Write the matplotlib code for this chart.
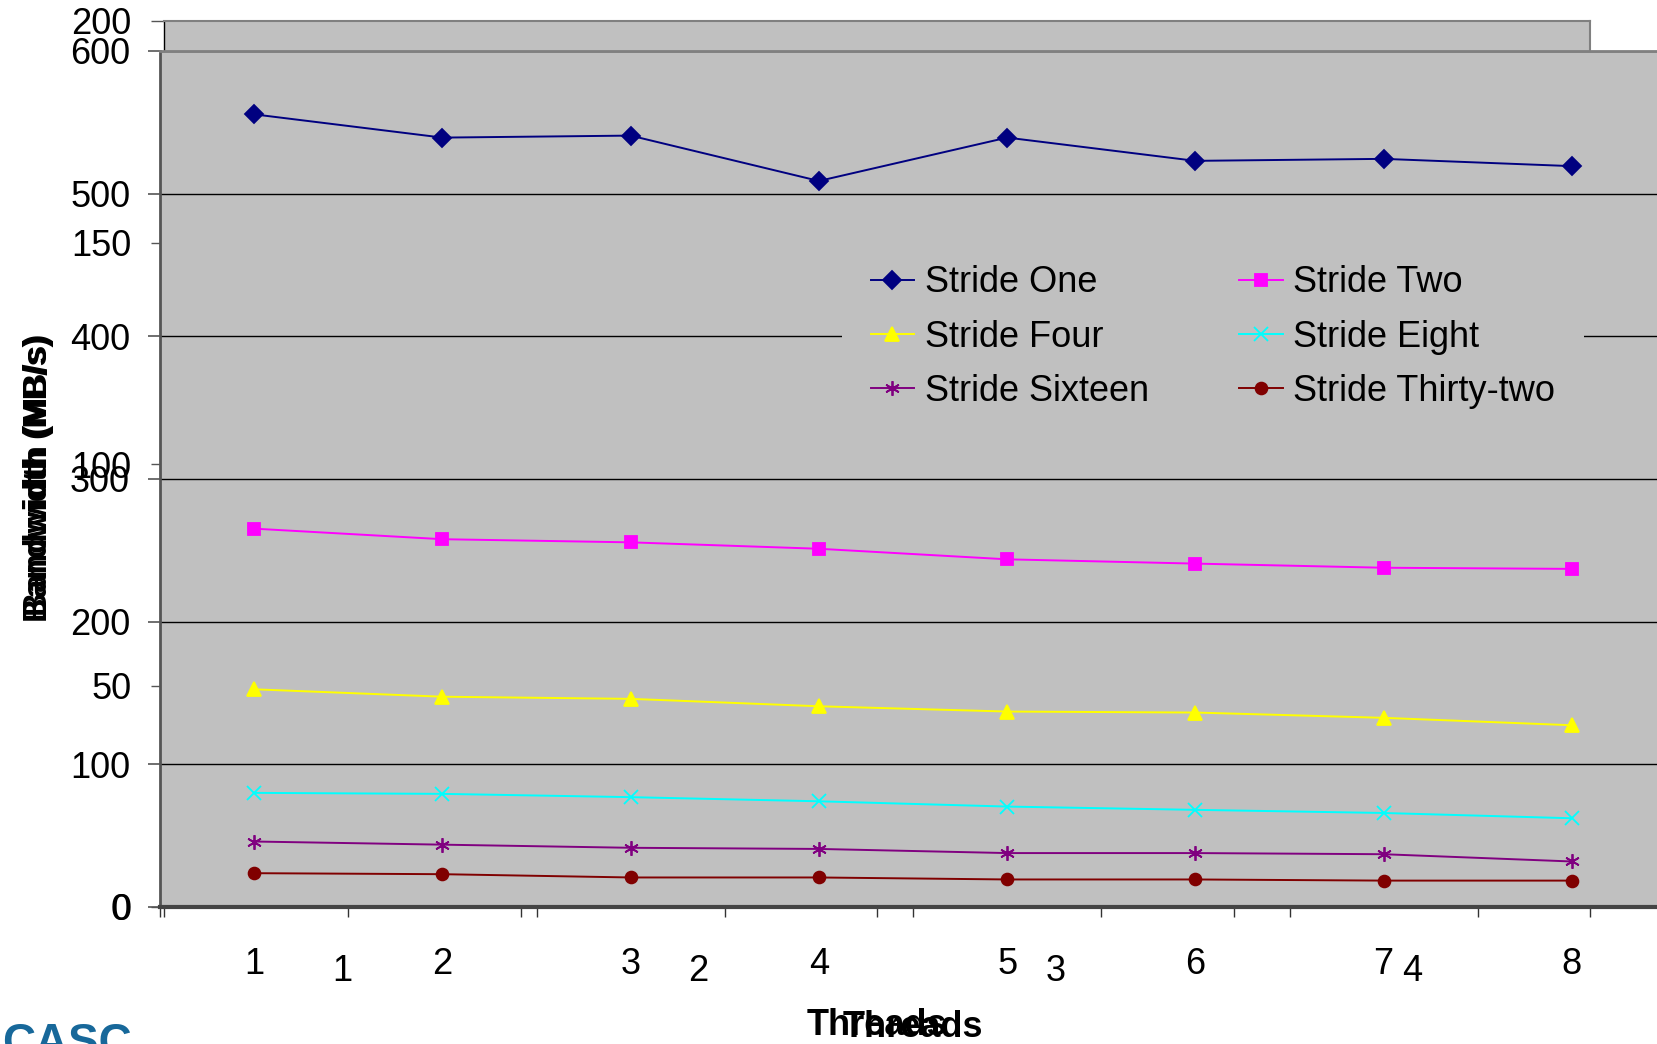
import matplotlib
matplotlib.use('Agg')
import matplotlib.pyplot as plt
from matplotlib.ticker import FixedLocator, FixedFormatter

plt.rcParams['font.family'] = ['Liberation Sans', 'DejaVu Sans']

# ---- data ----
threads = [1, 2, 3, 4, 5, 6, 7, 8]
thread_labels = ['1', '2', '3', '4', '5', '6', '7', '8']
back_categories = [1, 2, 3, 4]
back_labels = ['1', '2', '3', '4']
back_yticks = [0, 50, 100, 150, 200]
front_yticks = [0, 100, 200, 300, 400, 500, 600]

series_names = ['Stride One', 'Stride Two', 'Stride Four',
                'Stride Eight', 'Stride Sixteen', 'Stride Thirty-two']
stride_one = [555.6, 539.3, 540.7, 508.9, 539.3, 523.0, 524.4, 519.3]
stride_two = [265.2, 257.8, 255.6, 251.1, 243.7, 240.7, 237.8, 237.0]
stride_four = [152.6, 147.4, 145.9, 140.7, 137.0, 136.3, 132.6, 127.4]
stride_eight = [80.0, 79.3, 77.0, 74.1, 70.4, 68.1, 65.9, 62.2]
stride_sixteen = [45.9, 43.7, 41.5, 40.7, 37.8, 37.8, 37.0, 31.9]
stride_thirty_two = [23.7, 23.0, 20.7, 20.7, 19.3, 19.3, 18.5, 18.5]

colors = ['#000080', '#ff00ff', '#ffff00', '#00ffff', '#800080', '#800000']
markers = ['D', 's', '^', 'x', (6, 2, 0), 'o']
msizes = [9, 8.5, 9.5, 9.5, 10.5, 8.5]

W, H = 1657, 1044
fig = plt.figure(figsize=(W / 100, H / 100), dpi=100)
GRAY = '#c0c0c0'
TICK_FS = 26

def rect(l, t, r, b):
    return [l / W, 1 - b / H, (r - l) / W, (b - t) / H]

# ---- back chart ----
axb = fig.add_axes(rect(164, 21, 1590, 907))
axb.set_facecolor(GRAY)
axb.set_xlim(0.5, 4.5)
axb.set_ylim(0, 200)
axb.set_yticks(back_yticks)
axb.set_yticklabels([str(v) for v in back_yticks])
axb.xaxis.set_major_locator(FixedLocator(back_categories))
axb.xaxis.set_major_formatter(FixedFormatter(back_labels))
axb.xaxis.set_minor_locator(FixedLocator([0.5, 1.5, 2.5, 3.5, 4.5]))
axb.tick_params(axis='x', which='major', length=0, pad=33.5, labelsize=TICK_FS)
axb.tick_params(axis='x', which='minor', length=7.5, width=1, color='#333333')
axb.tick_params(axis='y', length=9.5, width=1, pad=14, labelsize=TICK_FS, color='#555555')
for s in ['top', 'right']:
    axb.spines[s].set_color('#808080')
    axb.spines[s].set_linewidth(1.5)
axb.spines['left'].set_color('black')
axb.spines['left'].set_linewidth(1)
axb.spines['bottom'].set_color('#333333')
axb.set_xlabel('Threads', fontsize=26, fontweight='bold')
axb.xaxis.set_label_coords(0.5, -0.114)
axb.set_ylabel('Bandwidth (MB/s)', fontsize=24.5, fontweight='bold')
axb.yaxis.set_label_coords(-0.077, 0.484)

# ---- front chart ----
ax = fig.add_axes(rect(160, 51, 1666, 907))
ax.set_facecolor(GRAY)
ax.set_xlim(0.5, 8.5)
ax.set_ylim(0, 600)
ax.set_yticks(front_yticks)
ax.set_yticklabels([str(v) for v in front_yticks])
ax.xaxis.set_major_locator(FixedLocator(threads))
ax.xaxis.set_major_formatter(FixedFormatter(thread_labels))
ax.xaxis.set_minor_locator(FixedLocator([x + 0.5 for x in [0] + threads]))
ax.tick_params(axis='x', which='major', length=0, pad=28.5, labelsize=TICK_FS)
ax.tick_params(axis='x', which='minor', length=7.5, width=1, color='#333333')
ax.tick_params(axis='y', length=9, width=1.2, pad=12.5, labelsize=TICK_FS, color='#555555')
ax.yaxis.grid(True, color='black', linewidth=1)
ax.set_axisbelow(True)
ax.spines['top'].set_color('#808080')
ax.spines['top'].set_linewidth(2)
ax.spines['left'].set_color('#555555')
ax.spines['left'].set_linewidth(2)
ax.spines['bottom'].set_color('#444444')
ax.spines['bottom'].set_linewidth(3)
ax.spines['right'].set_visible(False)

all_series = [stride_one, stride_two, stride_four, stride_eight,
              stride_sixteen, stride_thirty_two]
lines = []
for name, vals, c, m, ms in zip(series_names, all_series, colors, markers, msizes):
    ln, = ax.plot(threads, vals, color=c, marker=m, markersize=ms, linewidth=1.4,
                  markeredgecolor=c, markerfacecolor=c, markeredgewidth=1.3, label=name)
    lines.append(ln)

ax.set_xlabel('Threads', fontsize=26, fontweight='bold')
ax.xaxis.set_label_coords(0.5, -0.12)
ax.set_ylabel('Bandwidth (MB/s)', fontsize=24, fontweight='bold')
ax.yaxis.set_label_coords(-0.0705, 0.505)

# legend ordered row-wise: One/Two, Four/Eight, Sixteen/Thirty-two
order = [0, 2, 4, 1, 3, 5]
leg = ax.legend([lines[i] for i in order], [series_names[i] for i in order],
                loc='center', bbox_to_anchor=(1213 / W, 1 - 337 / H),
                bbox_transform=fig.transFigure, ncol=2, fontsize=26,
                frameon=True, facecolor=GRAY, edgecolor='none', framealpha=1,
                handlelength=1.2, handletextpad=0.3, columnspacing=2.5,
                labelspacing=0.53, borderpad=0.8)
leg.get_frame().set_boxstyle('square', pad=0)

fig.text(2 / W, -12 / H, 'CASC', fontsize=33, fontweight='bold',
         color='#17689a', ha='left', va='baseline')

fig.savefig('out.png', dpi=100)
